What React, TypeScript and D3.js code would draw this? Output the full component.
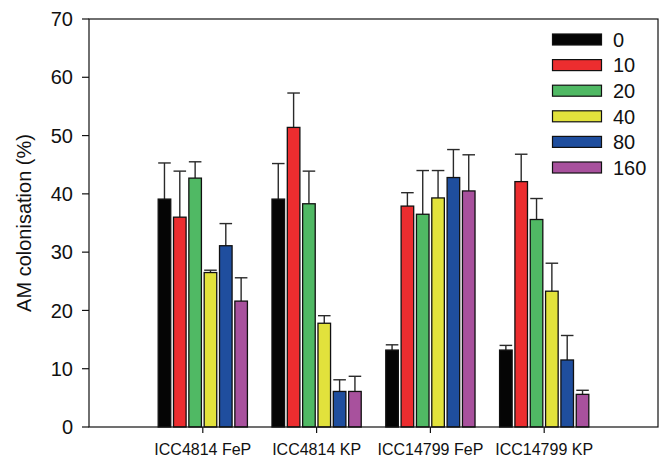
import React from "react";
import * as d3 from "d3";

// Treatment groups along the x axis
const groups = ["ICC4814 FeP", "ICC4814 KP", "ICC14799 FeP", "ICC14799 KP"];
// Rates shown in the legend (one bar per rate inside each group)
const rates = ["0", "10", "20", "40", "80", "160"];
const rateColors = ["#050505", "#ec2d2f", "#50b964", "#e2e23c", "#1f4e9e", "#a8519d"];

// Mean AM colonisation (%) per group, in rate order
const means = [
  [39.1, 36.0, 42.7, 26.5, 31.1, 21.6],
  [39.1, 51.4, 38.3, 17.8, 6.1, 6.1],
  [13.2, 37.9, 36.5, 39.3, 42.8, 40.5],
  [13.2, 42.1, 35.6, 23.3, 11.5, 5.6],
];
// Upper error (standard error) per bar
const errors = [
  [6.2, 7.9, 2.8, 0.4, 3.8, 4.0],
  [6.1, 5.9, 5.6, 1.3, 2.0, 2.6],
  [0.9, 2.3, 7.5, 4.7, 4.8, 6.2],
  [0.8, 4.7, 3.6, 4.8, 4.2, 0.7],
];
const yTicks = [0, 10, 20, 30, 40, 50, 60, 70];

const W = 662;
const H = 462;
const left = 89;
const right = 658;
const top = 19;
const bottom = 427;
const font = "Arial, 'Liberation Sans', Helvetica, sans-serif";

export default function App() {
  const x = d3.scaleLinear().domain([0, groups.length + 1]).range([left, right]);
  const y = d3.scaleLinear().domain([0, 70]).range([bottom, top]);
  const inner = d3
    .scaleBand<string>()
    .domain(rates)
    .range([-46, 46])
    .paddingInner(0.18)
    .paddingOuter(0.09);
  const bw = inner.bandwidth();

  const legendY = d3.scaleLinear().domain([0, 1]).range([39.5, 65.1]);

  return (
    <svg
      width={W}
      height={H}
      style={{ position: "absolute", left: 0, top: 0, background: "#fff" }}
      fontFamily={font}
    >
      {/* bars with upper error bars */}
      {groups.map((g, gi) => {
        const cx = x(gi + 1);
        return (
          <g key={g}>
            {rates.map((r, ri) => {
              const bx = cx + (inner(r) as number);
              const v = means[gi][ri];
              const e = errors[gi][ri];
              const mid = bx + bw / 2;
              return (
                <g key={r}>
                  <line
                    x1={mid}
                    x2={mid}
                    y1={y(v)}
                    y2={y(v + e)}
                    stroke="#2a2a2a"
                    strokeWidth={1.4}
                  />
                  <line
                    x1={bx}
                    x2={bx + bw}
                    y1={y(v + e)}
                    y2={y(v + e)}
                    stroke="#2a2a2a"
                    strokeWidth={1.4}
                  />
                  <rect
                    x={bx}
                    y={y(v)}
                    width={bw}
                    height={y(0) - y(v)}
                    fill={rateColors[ri]}
                    stroke="#111"
                    strokeWidth={1.3}
                  />
                </g>
              );
            })}
          </g>
        );
      })}

      {/* frame */}
      <rect
        x={left}
        y={top}
        width={right - left}
        height={bottom - top}
        fill="none"
        stroke="#111"
        strokeWidth={1.2}
      />

      {/* y axis ticks and labels */}
      {yTicks.map((t) => (
        <g key={t}>
          <line x1={left - 7} x2={left} y1={y(t)} y2={y(t)} stroke="#111" strokeWidth={1.2} />
          <text
            x={left - 16}
            y={y(t)}
            dy="0.36em"
            textAnchor="end"
            fontSize={20}
            fill="#111"
          >
            {t}
          </text>
        </g>
      ))}

      {/* x axis ticks and labels */}
      {groups.map((g, gi) => (
        <g key={g}>
          <line
            x1={x(gi + 1)}
            x2={x(gi + 1)}
            y1={bottom}
            y2={bottom + 6}
            stroke="#111"
            strokeWidth={1.2}
          />
          <text x={x(gi + 1)} y={455} textAnchor="middle" fontSize={16} fill="#111">
            {g}
          </text>
        </g>
      ))}

      {/* y axis title */}
      <text
        transform={`translate(31, ${(top + bottom) / 2}) rotate(-90)`}
        textAnchor="middle"
        fontSize={20}
        fill="#111"
      >
        AM colonisation (%)
      </text>

      {/* legend */}
      {rates.map((r, ri) => {
        const cy = legendY(ri);
        return (
          <g key={r}>
            <rect
              x={552.5}
              y={cy - 5.5}
              width={49}
              height={11}
              fill={rateColors[ri]}
              stroke="#111"
              strokeWidth={1.2}
            />
            <text x={613} y={cy} dy="0.36em" fontSize={20} fill="#111">
              {r}
            </text>
          </g>
        );
      })}
    </svg>
  );
}
